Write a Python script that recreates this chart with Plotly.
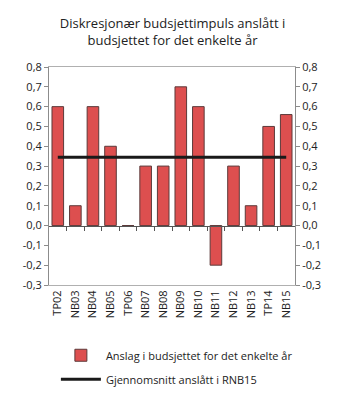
import plotly.graph_objects as go

# Budget documents and the estimated discretionary fiscal impulse in each
categories = ["TP02", "NB03", "NB04", "NB05", "TP06", "NB07", "NB08",
              "NB09", "NB10", "NB11", "NB12", "NB13", "TP14", "NB15"]
impulse = [0.6, 0.1, 0.6, 0.4, 0.0, 0.3, 0.3, 0.7, 0.6, -0.2, 0.3, 0.1, 0.5, 0.56]
average_rnb15 = 0.345

y_ticks = [0.8, 0.7, 0.6, 0.5, 0.4, 0.3, 0.2, 0.1, 0.0, -0.1, -0.2, -0.3]
y_labels = [f"{v:.1f}".replace(".", ",") for v in y_ticks]
y_min, y_max = -0.3, 0.8

title = "Diskresjonær budsjettimpuls anslått i<br>budsjettet for det enkelte år"
bar_name = "Anslag i budsjettet for det enkelte år"
line_name = "Gjennomsnitt anslått i RNB15"

font = "Open Sans, DejaVu Sans, sans-serif"
axis_grey = "#8c8c8c"

fig = go.Figure()
fig.add_trace(go.Bar(
    x=categories, y=impulse, name=bar_name, legendgroup="bars",
    marker=dict(color="#dd4f4f", line=dict(color="#5c3a3a", width=1)),
    width=0.66,
))
fig.add_trace(go.Scatter(
    x=categories, y=[average_rnb15] * len(categories), name=line_name,
    legendgroup="avg", mode="lines", line=dict(color="#1a1a1a", width=3),
))
# invisible trace so the mirrored right-hand axis is drawn
fig.add_trace(go.Scatter(
    x=categories[:1], y=[0], yaxis="y2", showlegend=False,
    mode="markers", marker=dict(opacity=0), hoverinfo="skip",
))
# category separator ticks hanging from the zero line
fig.add_trace(go.Scatter(
    x=[0], y=[0], xaxis="x2", showlegend=False,
    mode="markers", marker=dict(opacity=0), hoverinfo="skip",
))

zero_pos = (0 - y_min) / (y_max - y_min)

fig.update_layout(
    width=345, height=404,
    margin=dict(l=49, r=50, t=67, b=118),
    paper_bgcolor="white", plot_bgcolor="white",
    font=dict(family=font, size=11, color="#222222"),
    title=dict(text=title, x=0.5, xanchor="center", y=0.93, yanchor="middle",
               font=dict(family=font, size=13, color="#222222")),
    showlegend=True,
    legend=dict(x=0.028, y=-0.25, xanchor="left", yanchor="top",
                font=dict(family=font, size=11, color="#222222"),
                tracegroupgap=5, itemwidth=40, bgcolor="rgba(0,0,0,0)"),
    xaxis=dict(
        type="category", categoryorder="array", categoryarray=categories,
        range=[-0.5, len(categories) - 0.5],
        showline=True, linecolor="#b0b0b0", linewidth=1, mirror=True,
        ticks="", tickangle=-90, showgrid=False, zeroline=False,
        tickfont=dict(family=font, size=11, color="#222222"),
    ),
    xaxis2=dict(
        overlaying="x", anchor="free", position=zero_pos, side="bottom",
        range=[-0.5, len(categories) - 0.5],
        tickvals=[i + 0.5 for i in range(len(categories) - 1)],
        ticks="outside", ticklen=4, tickcolor="#555555", tickwidth=1,
        showticklabels=False, showline=True, linecolor="#555555", linewidth=1,
        showgrid=False, zeroline=False,
    ),
    yaxis=dict(
        range=[y_min, y_max], tickvals=y_ticks, ticktext=y_labels,
        showline=True, linecolor=axis_grey, linewidth=1,
        ticks="outside", ticklen=4, tickcolor=axis_grey,
        showgrid=False, zeroline=False,
        tickfont=dict(family=font, size=11, color="#222222"),
    ),
    yaxis2=dict(
        overlaying="y", side="right", matches="y",
        range=[y_min, y_max], tickvals=y_ticks, ticktext=y_labels,
        showline=True, linecolor=axis_grey, linewidth=1,
        ticks="outside", ticklen=4, tickcolor=axis_grey,
        showgrid=False, zeroline=False,
        tickfont=dict(family=font, size=11, color="#222222"),
    ),
)

fig.write_html("out.html")
